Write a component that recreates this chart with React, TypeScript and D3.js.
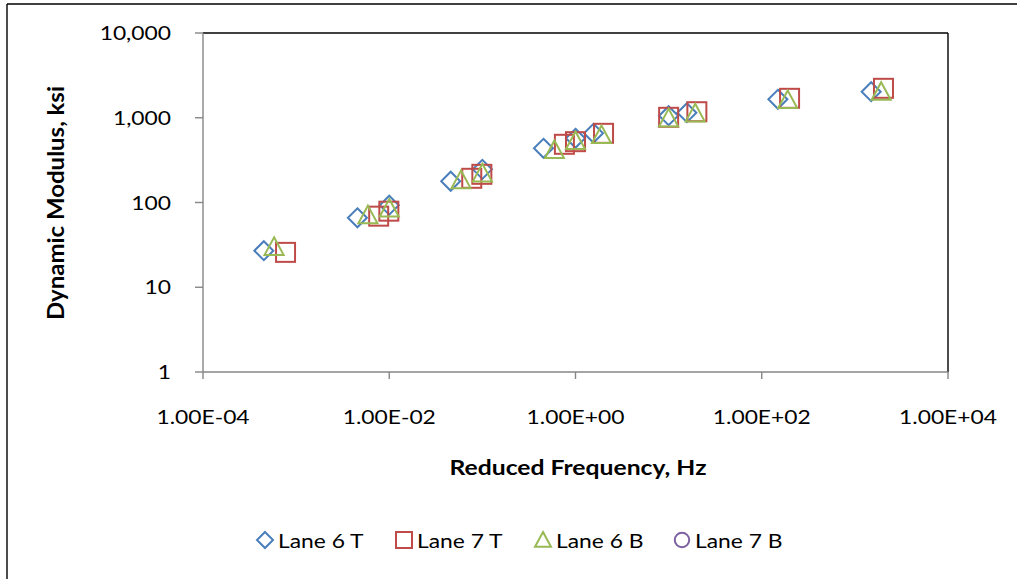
import React from "react";
import * as d3 from "d3";

const seriesNames = ["Lane 6 T", "Lane 7 T", "Lane 6 B", "Lane 7 B"];
const seriesColors = ["#4A7EBB", "#BE4B48", "#98B954", "#7D60A0"];
const seriesShapes = ["diamond", "square", "triangle", "circle"];

const lane6T_f = [4.5e-4, 4.55e-3, 1.0e-2, 0.0457, 0.1, 0.453, 1.0, 1.56, 10, 15.7, 149, 1496];
const lane6T_E = [27, 66, 93, 178, 246, 436, 572, 655, 1057, 1148, 1651, 2030];
const lane7T_f = [7.7e-4, 7.7e-3, 9.9e-3, 0.0769, 0.0987, 0.76, 1.0, 2.0, 10, 20.1, 199, 2028];
const lane7T_E = [25.8, 69, 79, 193, 215, 486, 522, 655, 1012, 1178, 1695, 2225];
const lane6B_f = [5.8e-4, 5.9e-3, 1.0e-2, 0.059, 0.1, 0.594, 1.0, 1.9, 10, 19.3, 190, 1916];
const lane6B_E = [30, 71, 85, 184, 221, 417, 532, 626, 985, 1128, 1619, 2030];
const lane7B_f: number[] = [];
const lane7B_E: number[] = [];

const xTicks = [1e-4, 1e-2, 1e0, 1e2, 1e4];
const xTickLabels = ["1.00E-04", "1.00E-02", "1.00E+00", "1.00E+02", "1.00E+04"];
const yTicks = [1, 10, 100, 1000, 10000];
const yTickLabels = ["1", "10", "100", "1,000", "10,000"];

const xTitle = "Reduced Frequency, Hz";
const yTitle = "Dynamic Modulus,  ksi";

const W = 1017;
const H = 579;
const L = 203, R = 948, T = 33, B = 372;
const SX = 1.17;
const FONT = "Lato, 'Open Sans', sans-serif";

function Marker({ shape, x, y, size, color }: { shape: string; x: number; y: number; size: number; color: string }) {
  const h = size / 2;
  const common = { fill: "none", stroke: color, strokeWidth: 2 };
  if (shape === "diamond") {
    return <path d={`M${x},${y - h}L${x + h},${y}L${x},${y + h}L${x - h},${y}Z`} {...common} />;
  }
  if (shape === "square") {
    return <rect x={x - h} y={y - h} width={size} height={size} {...common} />;
  }
  if (shape === "triangle") {
    return <path d={`M${x},${y - h}L${x + h},${y + h * 0.85}L${x - h},${y + h * 0.85}Z`} {...common} />;
  }
  return <circle cx={x} cy={y} r={h * 0.9} {...common} />;
}

function Txt({ x, y, anchor, size, bold, children }: any) {
  return (
    <text
      transform={`translate(${x},${y}) scale(${SX},1)`}
      textAnchor={anchor}
      fontFamily={FONT}
      fontSize={size}
      fontWeight={bold ? "bold" : "normal"}
      fill="#000"
    >
      {children}
    </text>
  );
}

export default function App() {
  const x = d3.scaleLog().domain([1e-4, 1e4]).range([L, R]);
  const y = d3.scaleLog().domain([1, 1e4]).range([B, T]);
  const series = [
    { f: lane6T_f, e: lane6T_E },
    { f: lane7T_f, e: lane7T_E },
    { f: lane6B_f, e: lane6B_E },
    { f: lane7B_f, e: lane7B_E },
  ];
  const legendX0 = 265;
  const legendStep = 139;
  const legendY = 540;

  return (
    <svg width={W} height={H} style={{ position: "absolute", left: 0, top: 0, background: "#fff" }}>
      <rect x={0} y={0} width={W} height={H} fill="#fff" />
      <line x1={7} y1={4} x2={W} y2={4} stroke="#000" strokeWidth={1.4} />
      <line x1={7} y1={4} x2={7} y2={H} stroke="#000" strokeWidth={1.4} />
      <line x1={L} y1={T} x2={R} y2={T} stroke="#000" strokeWidth={1.4} />
      <line x1={R} y1={T} x2={R} y2={B} stroke="#000" strokeWidth={1.4} />
      <line x1={L} y1={T} x2={L} y2={B} stroke="#868686" strokeWidth={1.4} />
      <line x1={L} y1={B} x2={R} y2={B} stroke="#868686" strokeWidth={1.4} />
      {yTicks.map((v, i) => (
        <g key={"yt" + i}>
          <line x1={L - 8} x2={L} y1={y(v)} y2={y(v)} stroke="#868686" strokeWidth={1.4} />
          <Txt x={171} y={y(v) + 7} anchor="end" size={19.5}>{yTickLabels[i]}</Txt>
        </g>
      ))}
      {xTicks.map((v, i) => (
        <g key={"xt" + i}>
          <line x1={x(v)} x2={x(v)} y1={B} y2={B + 7} stroke="#868686" strokeWidth={1.4} />
          <Txt x={x(v)} y={424} anchor="middle" size={19.5}>{xTickLabels[i]}</Txt>
        </g>
      ))}
      <text
        x={578}
        y={475}
        textAnchor="middle"
        fontFamily={FONT}
        fontSize={21}
        fontWeight="bold"
        textLength={257}
        lengthAdjust="spacingAndGlyphs"
      >
        {xTitle}
      </text>
      <text
        transform={`translate(64,203) rotate(-90)`}
        textAnchor="middle"
        fontFamily={FONT}
        fontSize={22}
        fontWeight="bold"
        textLength={234}
        lengthAdjust="spacingAndGlyphs"
      >
        {yTitle}
      </text>
      {series.map((s, si) => (
        <g key={"s" + si}>
          {s.f.map((fv, i) => (
            <Marker key={i} shape={seriesShapes[si]} x={x(fv)} y={y(s.e[i])} size={19} color={seriesColors[si]} />
          ))}
        </g>
      ))}
      {seriesNames.map((n, i) => (
        <g key={"lg" + i}>
          <Marker shape={seriesShapes[i]} x={legendX0 + i * legendStep} y={legendY} size={16} color={seriesColors[i]} />
          <Txt x={legendX0 + i * legendStep + 13} y={legendY + 7.5} anchor="start" size={19.5}>{n}</Txt>
        </g>
      ))}
    </svg>
  );
}
